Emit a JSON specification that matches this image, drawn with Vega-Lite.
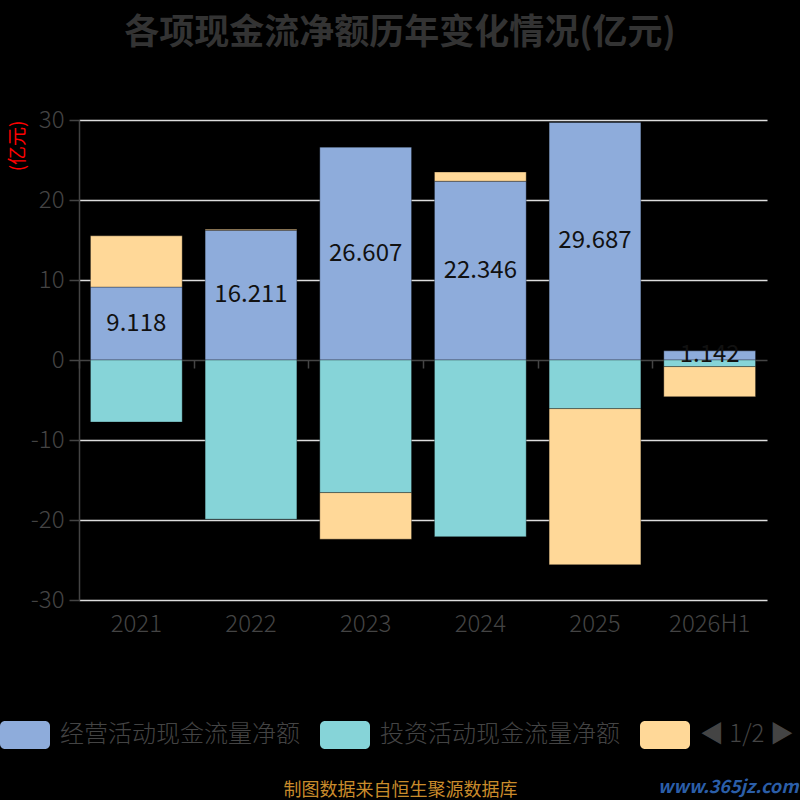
{
  "$schema": "https://vega.github.io/schema/vega-lite/v6.json",
  "width": 688,
  "height": 480,
  "autosize": "none",
  "padding": {"left": 79, "top": 120, "right": 33, "bottom": 200},
  "background": "#000000",
  "title": {
    "text": "各项现金流净额历年变化情况(亿元)",
    "font": "Noto Sans CJK SC",
    "fontSize": 35,
    "fontWeight": "bold",
    "color": "#333333",
    "anchor": "middle",
    "dx": -23,
    "offset": 57
  },
  "data": {
    "values": [
      {"year": "2021", "type": "经营活动现金流量净额", "value": 9.118},
      {"year": "2021", "type": "投资活动现金流量净额", "value": -7.75},
      {"year": "2021", "type": "筹资活动现金流量净额", "value": 6.4},
      {"year": "2022", "type": "经营活动现金流量净额", "value": 16.211},
      {"year": "2022", "type": "投资活动现金流量净额", "value": -19.9},
      {"year": "2022", "type": "筹资活动现金流量净额", "value": 0.12},
      {"year": "2023", "type": "经营活动现金流量净额", "value": 26.607},
      {"year": "2023", "type": "投资活动现金流量净额", "value": -16.58},
      {"year": "2023", "type": "筹资活动现金流量净额", "value": -5.82},
      {"year": "2024", "type": "经营活动现金流量净额", "value": 22.346},
      {"year": "2024", "type": "投资活动现金流量净额", "value": -22.08},
      {"year": "2024", "type": "筹资活动现金流量净额", "value": 1.15},
      {"year": "2025", "type": "经营活动现金流量净额", "value": 29.687},
      {"year": "2025", "type": "投资活动现金流量净额", "value": -6.08},
      {"year": "2025", "type": "筹资活动现金流量净额", "value": -19.5},
      {"year": "2026H1", "type": "经营活动现金流量净额", "value": 1.142},
      {"year": "2026H1", "type": "投资活动现金流量净额", "value": -0.83},
      {"year": "2026H1", "type": "筹资活动现金流量净额", "value": -3.75}
    ]
  },
  "transform": [
    {"calculate": "indexof(['经营活动现金流量净额', '投资活动现金流量净额', '筹资活动现金流量净额'], datum.type)", "as": "ord"}
  ],
  "layer": [
    {
      "mark": {"type": "bar", "stroke": "#000000", "strokeOpacity": 0.3, "strokeWidth": 1},
      "encoding": {
        "x": {
          "field": "year",
          "type": "ordinal",
          "sort": null,
          "scale": {"paddingInner": 0.2, "paddingOuter": 0.1},
          "axis": {
            "orient": "bottom",
            "domain": false,
            "ticks": false,
            "labelAngle": 0,
            "labelPadding": 12,
            "labelFontSize": 24,
            "labelFontWeight": 300,
            "labelColor": "#444444",
            "title": "制图数据来自恒生聚源数据库",
            "titleColor": "#c98b2b",
            "titleFontSize": 18,
            "titleFontWeight": "normal",
            "titlePadding": 145,
            "titleX": 321,
            "titleAlign": "center",
            "zindex": 0
          }
        },
        "y": {
          "field": "value",
          "type": "quantitative",
          "stack": "zero",
          "scale": {"domain": [-30, 30], "nice": false},
          "axis": {
            "values": [-30, -20, -10, 0, 10, 20, 30],
            "labelExpr": "'' + datum.value",
            "domain": true,
            "domainColor": "#444444",
            "domainWidth": 1.5,
            "ticks": true,
            "tickSize": 10,
            "tickColor": "#444444",
            "tickWidth": 1.5,
            "labelPadding": 5,
            "labelFontSize": 24,
            "labelFontWeight": 300,
            "labelColor": "#444444",
            "grid": true,
            "gridColor": {"condition": {"test": "datum.value === 0", "value": "transparent"}, "value": "#dddddd"},
            "gridWidth": 1.5,
            "title": "(亿元)",
            "titleColor": "#ff0000",
            "titleFontSize": 19,
            "titleFontWeight": "normal",
            "titleAngle": -90,
            "titleAlign": "right",
            "titleBaseline": "middle",
            "titleX": -62,
            "titleY": 0,
            "zindex": 0
          }
        },
        "color": {
          "field": "type",
          "type": "nominal",
          "scale": {
            "domain": ["经营活动现金流量净额", "投资活动现金流量净额", "筹资活动现金流量净额"],
            "range": ["#8eacdb", "#86d4d8", "#ffd898"]
          },
          "legend": {
            "orient": "none",
            "direction": "horizontal",
            "legendX": -79,
            "legendY": 590,
            "title": null,
            "padding": 0,
            "symbolType": "M-0.8,-0.56H0.8A0.2,0.2 0 0 1 1,-0.36V0.36A0.2,0.2 0 0 1 0.8,0.56H-0.8A0.2,0.2 0 0 1 -1,0.36V-0.36A0.2,0.2 0 0 1 -0.8,-0.56Z",
            "symbolSize": 2500,
            "symbolStrokeWidth": 0,
            "symbolOpacity": 1,
            "labelOffset": 10,
            "labelFontSize": 24,
            "labelFontWeight": 300,
            "labelColor": "#444444",
            "labelLimit": 400,
            "columnPadding": 20,
            "labelExpr": "datum.label == '筹资活动现金流量净额' ? '◀ 1/2 ▶' : datum.label"
          }
        },
        "order": {"field": "ord"}
      }
    },
    {
      "transform": [
        {"filter": "datum.type === '经营活动现金流量净额'"},
        {"calculate": "datum.value / 2", "as": "mid"}
      ],
      "mark": {"type": "text", "fontSize": 24, "color": "#111111", "font": "Noto Sans CJK SC"},
      "encoding": {
        "x": {
          "field": "year",
          "type": "ordinal",
          "sort": null,
          "axis": {
            "orient": "bottom",
            "offset": -240,
            "domain": true,
            "domainColor": "#444444",
            "domainWidth": 1.5,
            "ticks": true,
            "tickSize": 8,
            "tickColor": "#444444",
            "tickWidth": 1.5,
            "bandPosition": 0,
            "tickOffset": -11.5,
            "labels": false,
            "grid": false,
            "title": "www.365jz.com",
            "titleX": 719,
            "titleAlign": "right",
            "titleColor": "#2b5ea8",
            "titleFontSize": 18,
            "titleFontWeight": "bold",
            "titleFontStyle": "italic",
            "titlePadding": 410,
            "zindex": 0
          }
        },
        "y": {"field": "mid", "type": "quantitative", "title": "(亿元)"},
        "text": {"field": "value", "type": "quantitative", "format": ".3f"}
      }
    }
  ],
  "resolve": {"axis": {"x": "independent"}},
  "config": {
    "font": "Noto Sans CJK SC",
    "view": {"stroke": null},
    "axis": {"labelFont": "Noto Sans CJK SC", "titleFont": "Noto Sans CJK SC"},
    "legend": {"labelFont": "Noto Sans CJK SC"}
  }
}
